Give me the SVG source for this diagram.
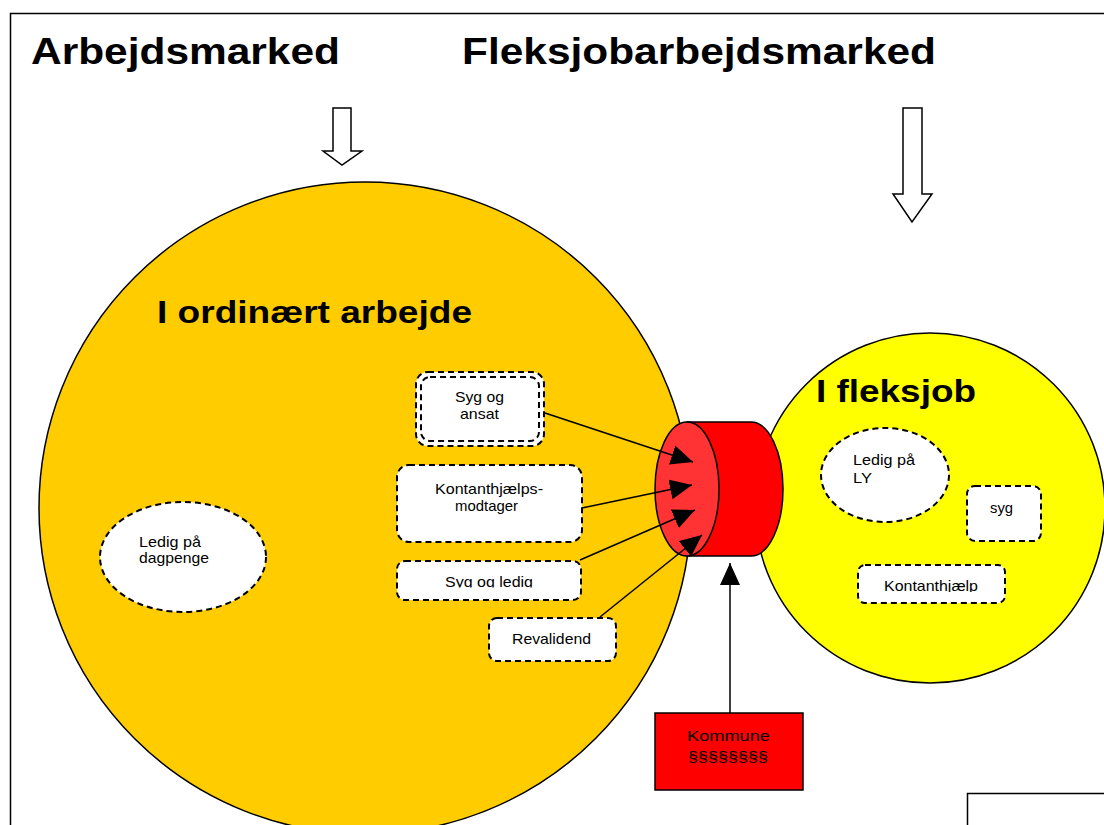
<svg xmlns="http://www.w3.org/2000/svg" width="1104" height="825" viewBox="0 0 1104 825">
<style>
.t{font-family:"Liberation Sans",Arial,sans-serif;fill:#000}
.h{font-weight:bold}
.s{font-size:15px}
.box{fill:#fff;stroke:#000;stroke-width:2;stroke-dasharray:6 4}
.ln{stroke:#000;stroke-width:1.5;fill:none}
</style>
<defs>
<marker id="ah" markerUnits="userSpaceOnUse" markerWidth="24" markerHeight="22" refX="22" refY="10" orient="auto">
<path d="M0,0 L22,10 L0,20 Z" fill="#000"/>
</marker>
<clipPath id="c1"><rect x="390" y="555" width="200" height="32.5"/></clipPath>
<clipPath id="c2"><rect x="850" y="560" width="160" height="32"/></clipPath>
</defs>
<rect x="10.5" y="13.5" width="1110" height="830" fill="#fff" stroke="#000" stroke-width="1.5"/>
<g id="title-left"><text class="t h" x="31" y="64" font-size="37" textLength="309" lengthAdjust="spacingAndGlyphs">Arbejdsmarked</text></g>
<g id="title-right"><text class="t h" x="462" y="64" font-size="37" textLength="474" lengthAdjust="spacingAndGlyphs">Fleksjobarbejdsmarked</text></g>
<g id="arrow-left"><path d="M333,108 L351,108 L351,151 L362,151 L342,165 L323,151 L333,151 Z" fill="#fff" stroke="#000" stroke-width="1.5"/></g>
<g id="arrow-right"><path d="M903,108 L922,108 L922,194 L932,194 L912,222 L893,194 L903,194 Z" fill="#fff" stroke="#000" stroke-width="1.5"/></g>
<g id="circle-ordinaert">
<circle cx="365" cy="508" r="326" fill="#FFCC00" stroke="#000" stroke-width="1.5"/>
<text class="t h" x="157" y="323" font-size="31" textLength="315" lengthAdjust="spacingAndGlyphs">I ordinært arbejde</text>
</g>
<g id="circle-fleksjob">
<circle cx="930" cy="508" r="175" fill="#FFFF00" stroke="#000" stroke-width="1.5"/>
<text class="t h" x="816" y="402" font-size="31" textLength="160" lengthAdjust="spacingAndGlyphs">I fleksjob</text>
</g>
<g id="cylinder">
<path d="M687,422 L751,422 A32,67 0 0 1 751,556 L687,556 Z" fill="#FF0000" stroke="#000" stroke-width="1.5"/>
<ellipse cx="687" cy="489" rx="32" ry="67" fill="#FF3333" stroke="#000" stroke-width="1.5"/>
</g>
<g id="node-syg-ansat">
<rect x="416" y="372" width="128" height="74" rx="12" class="box"/>
<rect x="421" y="377" width="118" height="64" rx="9" fill="none" stroke="#000" stroke-width="2" stroke-dasharray="6 4"/>
<text class="t s" x="455" y="402" textLength="49" lengthAdjust="spacingAndGlyphs">Syg og</text>
<text class="t s" x="460" y="419" textLength="39" lengthAdjust="spacingAndGlyphs">ansat</text>
</g>
<g id="node-kontanthjaelpsmodtager">
<rect x="397" y="465" width="185" height="77" rx="12" class="box"/>
<text class="t s" x="435" y="494" textLength="108" lengthAdjust="spacingAndGlyphs">Kontanthjælps-</text>
<text class="t s" x="455" y="511" textLength="63" lengthAdjust="spacingAndGlyphs">modtager</text>
</g>
<g id="node-syg-ledig">
<rect x="397" y="561" width="184" height="39" rx="8" class="box"/>
<text class="t s" x="445" y="587" textLength="88" lengthAdjust="spacingAndGlyphs" clip-path="url(#c1)">Syg og ledig</text>
</g>
<g id="node-revalidend">
<rect x="489" y="618" width="127" height="43" rx="8" class="box"/>
<text class="t s" x="512" y="644" textLength="79" lengthAdjust="spacingAndGlyphs">Revalidend</text>
</g>
<g id="node-ledig-dagpenge">
<ellipse cx="183" cy="557" rx="83" ry="55" class="box"/>
<text class="t s" x="139" y="547" textLength="62" lengthAdjust="spacingAndGlyphs">Ledig på</text>
<text class="t s" x="139" y="563" textLength="70" lengthAdjust="spacingAndGlyphs">dagpenge</text>
</g>
<g id="node-ledig-ly">
<ellipse cx="885" cy="475" rx="64" ry="47" class="box"/>
<text class="t s" x="853" y="465" textLength="62" lengthAdjust="spacingAndGlyphs">Ledig på</text>
<text class="t s" x="853" y="483" textLength="19" lengthAdjust="spacingAndGlyphs">LY</text>
</g>
<g id="node-syg">
<rect x="967" y="486" width="74" height="55" rx="8" class="box"/>
<text class="t s" x="990" y="513" textLength="23" lengthAdjust="spacingAndGlyphs">syg</text>
</g>
<g id="node-kontanthjaelp">
<rect x="858" y="565" width="147" height="38" rx="7" class="box"/>
<text class="t s" x="884" y="591" textLength="94" lengthAdjust="spacingAndGlyphs" clip-path="url(#c2)">Kontanthjælp</text>
</g>
<g id="node-kommune">
<rect x="655" y="713" width="148" height="77" fill="#FF0000" stroke="#000" stroke-width="1.5"/>
<text class="t s" x="687" y="741" textLength="83" lengthAdjust="spacingAndGlyphs">Kommune</text>
<text class="t s" x="688" y="762" textLength="80" lengthAdjust="spacingAndGlyphs">§§§§§§§§</text>
</g>
<g id="connectors">
<line class="ln" x1="545" y1="413" x2="693" y2="462" marker-end="url(#ah)"/>
<line class="ln" x1="582" y1="508" x2="692" y2="485" marker-end="url(#ah)"/>
<line class="ln" x1="580" y1="560" x2="695" y2="510" marker-end="url(#ah)"/>
<line class="ln" x1="600" y1="617" x2="702" y2="535" marker-end="url(#ah)"/>
<line class="ln" x1="730" y1="713" x2="730" y2="563" marker-end="url(#ah)"/>
</g>
<rect x="967.5" y="793.5" width="150" height="50" fill="#fff" stroke="#000" stroke-width="1.5"/>
</svg>
